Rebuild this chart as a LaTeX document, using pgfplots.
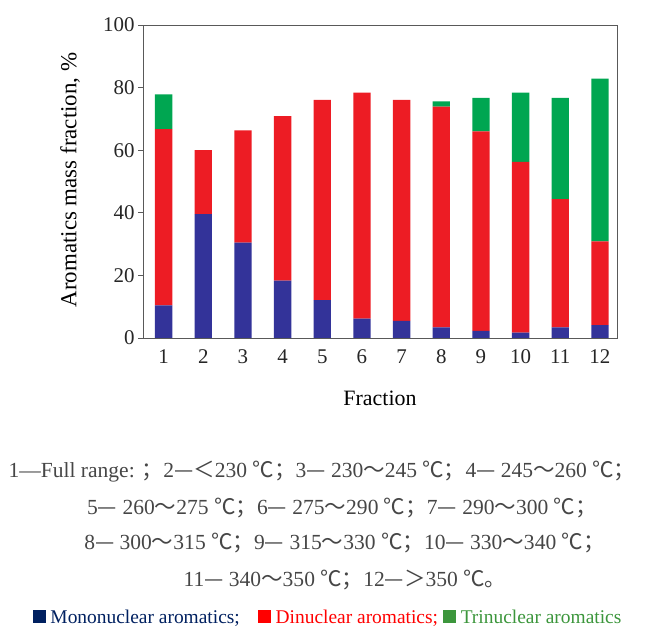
\documentclass[border=0pt]{standalone}
\usepackage{pgfplots}
\pgfplotsset{compat=1.18}
\usepackage{pgfplotstable}
\usepackage{fontspec}
\setmainfont{Liberation Serif}
\newfontfamily\cjk{Noto Sans CJK SC}
\definecolor{cmono}{RGB}{51,51,153}
\definecolor{cdi}{RGB}{237,28,36}
\definecolor{ctri}{RGB}{0,166,81}
\definecolor{lmono}{RGB}{0,32,96}
\definecolor{ldi}{RGB}{255,0,0}
\definecolor{ltri}{RGB}{60,150,60}
\definecolor{ftxt}{RGB}{70,70,70}
\pgfplotstableread{
x mono di tri
1 10.4 56.3 11.1
2 39.6 20.4 0
3 30.5 35.8 0
4 18.3 52.6 0
5 12.1 64.0 0
6 6.2 72.2 0
7 5.5 70.6 0
8 3.4 70.5 1.7
9 2.3 63.7 10.7
10 1.7 54.6 22.1
11 3.4 41.0 32.3
12 4.1 26.8 52.0
}\datatable
\newcommand{\C}[1]{{\cjk #1}}
\begin{document}
\begin{tikzpicture}
\path[use as bounding box] (0,0) rectangle (645bp,626bp);
\begin{axis}[
  at={(143bp,288bp)}, anchor=south west,
  scale only axis, width=474bp, height=313bp,
  xmin=0.48, xmax=12.43, ymin=0, ymax=100,
  ybar stacked, bar width=17.3bp,
  xtick={1,...,12}, ytick={0,20,...,100},
  axis line style={black!65, line width=0.8bp},
  major tick length=5bp, tick align=outside,
  ytick pos=left, xtick style={draw=none},
  ytick style={black!65, line width=0.8bp},
  tick label style={font=\fontsize{21}{24}\selectfont, text=black!85},
  xticklabel style={yshift=-3bp},
  /pgf/number format/assume math mode=true,
  axis on top,
]
\addplot[fill=cmono, draw=none] table[x=x, y=mono] {\datatable};
\addplot[fill=cdi, draw=none] table[x=x, y=di] {\datatable};
\addplot[fill=ctri, draw=none] table[x=x, y=tri] {\datatable};
\end{axis}
\node[rotate=90, font=\fontsize{23}{26}\selectfont] at (70bp,446bp) {Aromatics mass fraction, \%};
\node[font=\fontsize{22}{26}\selectfont] at (380bp,228bp) {Fraction};
\begin{scope}[every node/.style={font=\fontsize{21.6}{26}\selectfont, text=ftxt, inner sep=0pt}]
\node at (322bp,154bp) {1—Full range: \C{；}2\C{—＜}230 \C{℃；}3\C{—} 230\C{～}245 \C{℃；}4\C{—} 245\C{～}260 \C{℃；}};
\node at (342bp,118bp) {5\C{—} 260\C{～}275 \C{℃；}6\C{—} 275\C{～}290 \C{℃；}7\C{—} 290\C{～}300 \C{℃；}};
\node at (344.5bp,83bp) {8\C{—} 300\C{～}315 \C{℃；}9\C{—} 315\C{～}330 \C{℃；}10\C{—} 330\C{～}340 \C{℃；}};
\node at (345bp,46bp) {11\C{—} 340\C{～}350 \C{℃；}12\C{—＞}350 \C{℃。}};
\end{scope}
\node[font=\fontsize{19.5}{22}\selectfont, inner sep=0pt] at (327bp,8bp) {%
\textcolor{lmono}{\rule{13bp}{13bp}} \textcolor{lmono}{Mononuclear aromatics;}\hspace{18bp}%
\textcolor{ldi}{\rule{13bp}{13bp}} \textcolor{ldi}{Dinuclear aromatics;} %
\textcolor{ltri}{\rule{13bp}{13bp}} \textcolor{ltri}{Trinuclear aromatics}};
\end{tikzpicture}
\end{document}
